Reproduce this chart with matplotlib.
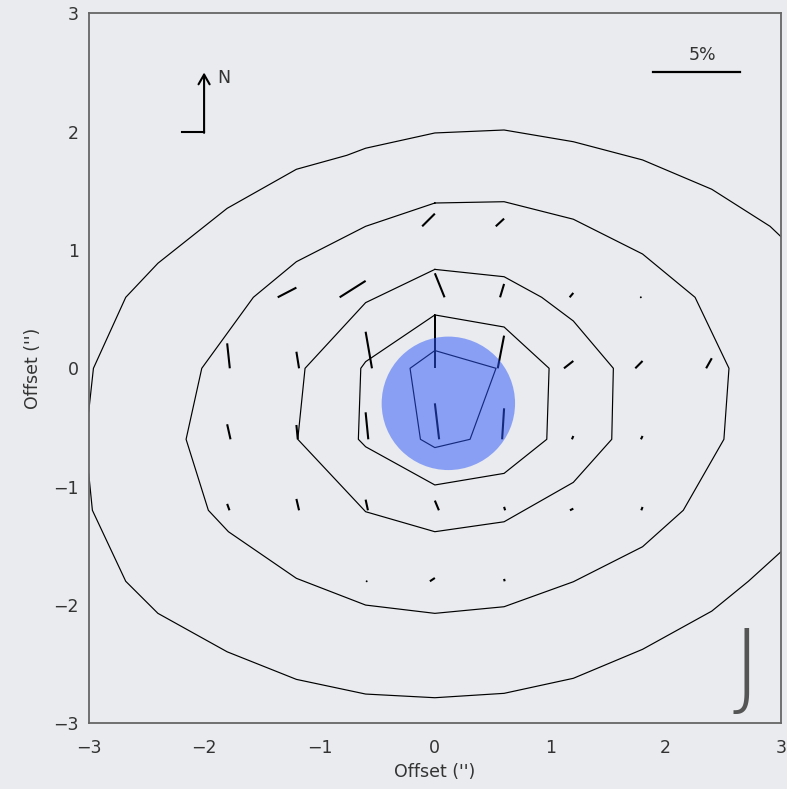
import numpy as np
import matplotlib.pyplot as plt
from matplotlib.patches import Ellipse

# polarisation vectors: grid point, vector components (arcsec)
vec_gx = [0.0, 0.6,
          -1.2, -0.6, 0.0, 0.6, 1.2, 1.8,
          -1.8, -1.2, -0.6, 0.0, 0.6, 1.2, 1.8, 2.4,
          -1.8, -1.2, -0.6, 0.0, 0.6, 1.2, 1.8,
          -1.8, -1.2, -0.6, 0.0, 0.6, 1.2, 1.8,
          -0.6, 0.0, 0.6]
vec_gy = [1.2, 1.2,
          0.6, 0.6, 0.6, 0.6, 0.6, 0.6,
          0.0, 0.0, 0.0, 0.0, 0.0, 0.0, 0.0, 0.0,
          -0.6, -0.6, -0.6, -0.6, -0.6, -0.6, -0.6,
          -1.2, -1.2, -1.2, -1.2, -1.2, -1.2, -1.2,
          -1.8, -1.8, -1.8]
vec_u = [0.110, 0.072,
         0.162, 0.225, -0.084, 0.035, 0.032, 0.015,
         -0.023, -0.023, -0.055, 0.000, 0.055, 0.081, 0.063, 0.049,
         -0.029, -0.012, -0.023, -0.037, 0.017, 0.012, 0.014,
         -0.020, -0.023, -0.020, -0.035, -0.009, 0.029, 0.011,
         -0.009, 0.043, -0.005]
vec_v = [0.107, 0.065,
         0.082, 0.139, 0.203, 0.113, 0.037, 0.008,
         0.211, 0.140, 0.309, 0.451, 0.276, 0.062, 0.062, 0.085,
         0.127, 0.121, 0.228, 0.304, 0.262, 0.028, 0.028,
         0.054, 0.096, 0.090, 0.082, 0.029, 0.014, 0.028,
         0.013, 0.028, 0.020]

# intensity contours (closed)
c1_x = [0.0, -0.215, -0.125, 0.0, 0.305, 0.53]
c1_y = [0.15, 0.0, -0.6, -0.67, -0.6, 0.0]
c2_x = [0.0, 0.6, 0.99, 0.97, 0.6, 0.0, -0.6, -0.663, -0.642, -0.6]
c2_y = [0.451, 0.349, 0.0, -0.6, -0.888, -0.986, -0.663, -0.6, 0.0, 0.056]
c3_x = [0.0, 0.6, 0.926, 1.2, 1.547, 1.533, 1.2, 0.6, 0.0, -0.6, -1.188, -1.125, -0.6]
c3_y = [0.836, 0.774, 0.6, 0.4, 0.0, -0.6, -0.964, -1.297, -1.381, -1.212, -0.6, 0.0, 0.555]
c4_x = [0.0, 0.6, 1.2, 1.8, 2.255, 2.549, 2.505, 2.153, 1.8, 1.2, 0.6, 0.0, -0.6, -1.2,
        -1.789, -1.963, -2.156, -2.02, -1.573, -1.2, -0.6]
c4_y = [1.397, 1.408, 1.26, 0.966, 0.6, 0.0, -0.6, -1.2, -1.508, -1.804, -2.015, -2.071,
        -2.001, -1.775, -1.381, -1.2, -0.6, 0.0, 0.6, 0.901, 1.2]
# outer contour, open at the map edges
c5a_x = [-3.0, -2.959, -2.679, -2.4, -1.8, -1.2, -0.763, -0.6, 0.0, 0.6, 1.2, 1.648, 1.8, 2.4, 2.905, 3.0]
c5a_y = [-0.367, 0.0, 0.6, 0.888, 1.352, 1.682, 1.8, 1.86, 1.989, 2.014, 1.915, 1.8, 1.761, 1.513, 1.2, 1.112]
c5b_x = [3.0, 2.717, 2.4, 1.8, 1.2, 0.6, 0.0, -0.6, -1.2, -1.8, -2.4, -2.679, -2.968, -3.0]
c5b_y = [-1.55, -1.8, -2.052, -2.375, -2.62, -2.747, -2.784, -2.753, -2.629, -2.396, -2.071, -1.8, -1.2, -0.888]

ticks = [-3, -2, -1, 0, 1, 2, 3]
beam_xy = (0.117, -0.296)
beam_w, beam_h = 1.156, 1.128
bar_len = 0.754  # 5 per cent

bg = '#e9ebee'
fig = plt.figure(figsize=(7.87, 7.89), dpi=100, facecolor=bg)
ax = fig.add_axes([0.1127, 0.0833, 0.8797, 0.8998], facecolor=bg)

for cx, cy in [(c1_x, c1_y), (c2_x, c2_y), (c3_x, c3_y), (c4_x, c4_y)]:
    ax.plot(cx + cx[:1], cy + cy[:1], color='black', lw=0.85, zorder=2)
ax.plot(c5a_x, c5a_y, color='black', lw=0.85, zorder=2)
ax.plot(c5b_x, c5b_y, color='black', lw=0.85, zorder=2)

gx = np.array(vec_gx)
gy = np.array(vec_gy)
u = np.array(vec_u)
v = np.array(vec_v)
ax.quiver(gx - u, gy, u, v, angles='xy', scale_units='xy', scale=1, pivot='tail',
          headwidth=0, headlength=0, headaxislength=0, width=0.003, color='black', zorder=3)

ax.add_patch(Ellipse(beam_xy, beam_w, beam_h, facecolor='#2b55fa', edgecolor='none',
                     alpha=0.5, zorder=4))

# 5% scale bar
ax.plot([1.893, 1.893 + bar_len], [2.507, 2.507], color='black', lw=1.6, zorder=3)
ax.text(2.32, 2.57, '5%', ha='center', va='bottom', fontsize=12.5, color='#333333')

# north marker
ax.plot([-2.193, -2.0], [2.0, 2.0], color='black', lw=1.5)
ax.annotate('', xy=(-2.0, 2.5), xytext=(-2.0, 1.99),
            arrowprops=dict(arrowstyle='->,head_length=0.7,head_width=0.4', color='black', lw=1.5,
                            shrinkA=0, shrinkB=0))
ax.text(-1.885, 2.455, 'N', ha='left', va='center', fontsize=12.5, color='#333333')

ax.text(2.697, -2.559, 'J', ha='center', va='center', fontsize=68, color='#555555',
        fontweight='light')

ax.set_xlim(-3, 3)
ax.set_ylim(-3, 3)
ax.set_xticks(ticks)
ax.set_yticks(ticks)
ax.tick_params(length=0, labelsize=12.5, labelcolor='#333333')
ax.tick_params(axis='x', pad=11)
ax.tick_params(axis='y', pad=7)
for s in ax.spines.values():
    s.set_color('#666666')
    s.set_linewidth(1.3)
ax.set_xlabel("Offset ('')", fontsize=12.5, color='#333333', labelpad=5)
ax.set_ylabel("Offset ('')", fontsize=12.5, color='#333333', labelpad=8)

fig.savefig('out.png', dpi=100, facecolor=bg)
